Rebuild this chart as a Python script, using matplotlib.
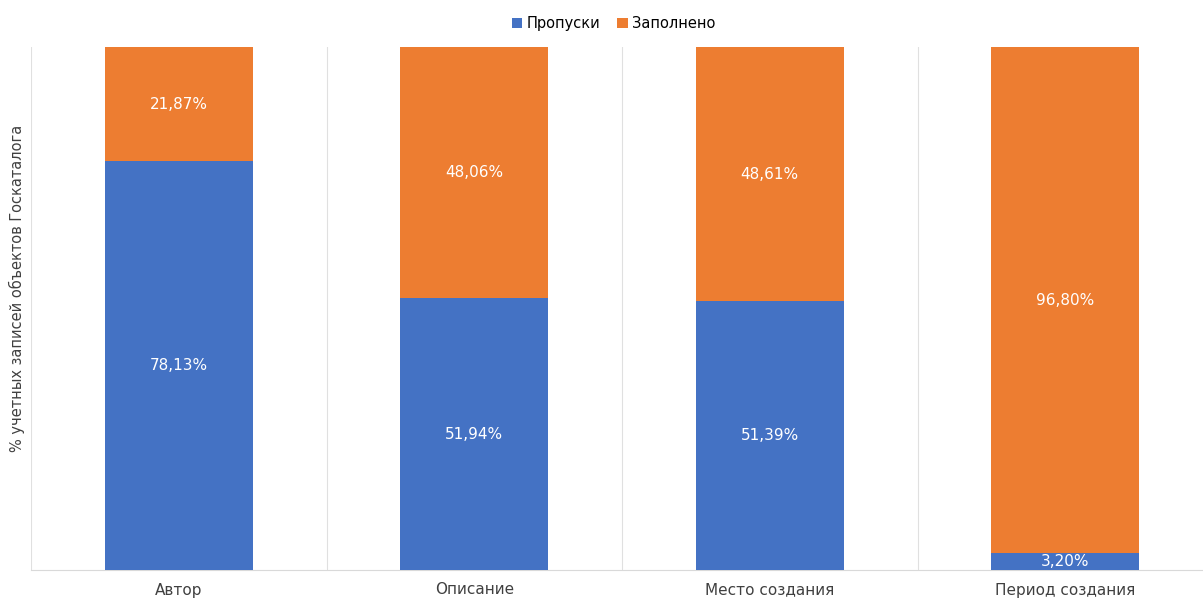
import numpy as np
import matplotlib.pyplot as plt

categories = ['Автор', 'Описание', 'Место создания', 'Период создания']
missing = [78.13, 51.94, 51.39, 3.20]
filled = [21.87, 48.06, 48.61, 96.80]

blue = '#4472C4'
orange = '#ED7D31'

fig = plt.figure(figsize=(12.03, 6.0), dpi=100)
# plot area runs a little past the right edge of the image
ax = fig.add_axes([31 / 1203, 1 - 570 / 600, (1213 - 31) / 1203, (570 - 47) / 600])

x = np.arange(len(categories))
w = 0.5
ax.bar(x, missing, width=w, color=blue, label='Пропуски', zorder=3)
ax.bar(x, filled, width=w, bottom=missing, color=orange, label='Заполнено', zorder=3)

for i in range(len(categories)):
    ax.text(x[i], missing[i] / 2, f'{missing[i]:.2f}%'.replace('.', ','),
            ha='center', va='center', color='white', fontsize=11, zorder=4)
    ax.text(x[i], missing[i] + filled[i] / 2, f'{filled[i]:.2f}%'.replace('.', ','),
            ha='center', va='center', color='white', fontsize=11, zorder=4)

ax.set_xlim(-0.5, len(categories) - 0.5)
ax.set_ylim(0, 100)
ax.set_xticks(x)
ax.set_xticklabels(categories, fontsize=11, color='#404040')
ax.tick_params(axis='x', length=0, pad=9)
ax.set_yticks([])

# thin separators between categories
for b in np.arange(-0.5, len(categories), 1.0):
    ax.axvline(b, color='#E0E0E0', lw=0.8, zorder=1)

for s in ['top', 'right', 'left']:
    ax.spines[s].set_visible(False)
ax.spines['bottom'].set_color('#D9D9D9')

fig.text(17 / 1203, 0.52, '% учетных записей объектов Госкаталога', rotation=90,
         ha='center', va='center', fontsize=10.5, color='#404040')

fig.legend(loc='upper center', bbox_to_anchor=(0.51, 0.995), ncol=2, frameon=False,
           fontsize=10.5, handlelength=0.7, handleheight=0.7, columnspacing=1.2,
           handletextpad=0.3)

fig.savefig('out.png', dpi=100)
